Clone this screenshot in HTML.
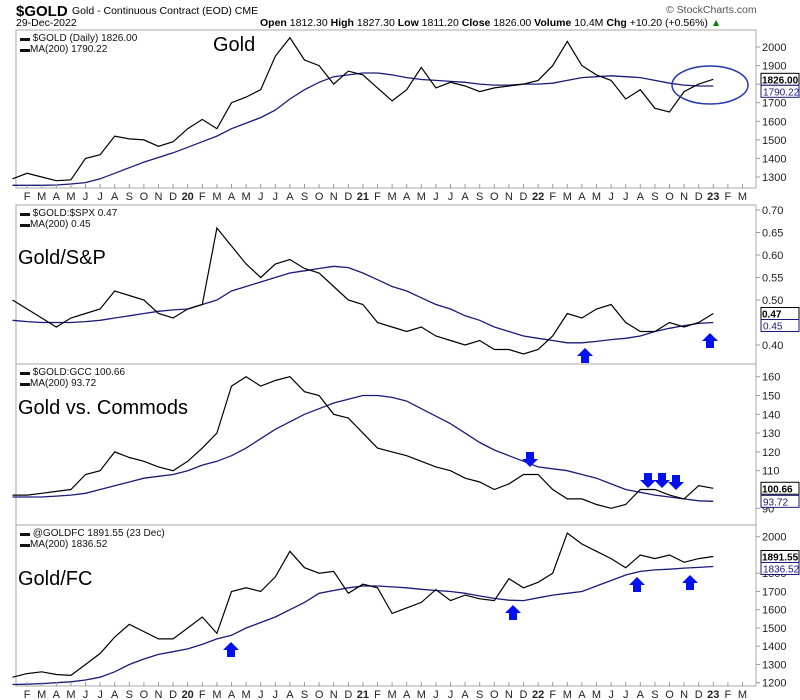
<!DOCTYPE html>
<html><head><meta charset="utf-8">
<style>
body{margin:0;background:#fff;}
svg{display:block;font-family:"Liberation Sans",Arial,sans-serif;}
.ax{font-size:11px;fill:#222;}
.lg{font-size:10px;fill:#111;}
</style></head>
<body>
<svg id="chart" width="800" height="700">
<text x="16" y="16" font-size="15" font-weight="bold">$GOLD</text>
<text x="72" y="14" font-size="10.5">Gold - Continuous Contract (EOD) CME</text>
<text x="16" y="26" font-size="10.5">29-Dec-2022</text>
<text x="260" y="26" font-size="10.5"><tspan font-weight="bold">Open</tspan> 1812.30 <tspan font-weight="bold">High</tspan> 1827.30 <tspan font-weight="bold">Low</tspan> 1811.20 <tspan font-weight="bold">Close</tspan> 1826.00 <tspan font-weight="bold">Volume</tspan> 10.4M <tspan font-weight="bold">Chg</tspan> +10.20 (+0.56%) <tspan fill="#080">▲</tspan></text>
<text x="666" y="13" font-size="10.5" fill="#555">© StockCharts.com</text>
<g id="panels"></g>
</svg>
<script>
// months from Jan 2019 (t=0) to Jan 2023 (t=48)
const goldPrice=[1290,1320,1300,1280,1285,1400,1420,1520,1505,1500,1465,1490,1560,1610,1560,1700,1730,1770,1950,2050,1930,1900,1800,1870,1850,1780,1710,1770,1890,1780,1810,1790,1760,1780,1790,1800,1820,1900,2030,1900,1850,1820,1720,1770,1670,1650,1760,1800,1826];
const goldMA=[1255,1255,1255,1257,1262,1270,1290,1320,1350,1380,1405,1430,1460,1490,1520,1560,1590,1620,1660,1720,1770,1810,1840,1850,1860,1860,1850,1835,1825,1820,1815,1810,1800,1795,1795,1800,1800,1805,1820,1835,1840,1845,1840,1835,1820,1805,1795,1790,1790];
const gspxPrice=[0.50,0.48,0.46,0.44,0.46,0.47,0.48,0.52,0.51,0.50,0.47,0.46,0.48,0.49,0.66,0.62,0.58,0.55,0.58,0.59,0.57,0.56,0.53,0.50,0.49,0.45,0.44,0.43,0.44,0.42,0.41,0.40,0.41,0.39,0.39,0.38,0.39,0.42,0.47,0.46,0.48,0.49,0.45,0.43,0.43,0.45,0.44,0.45,0.47];
const gspxMA=[0.455,0.452,0.45,0.45,0.45,0.452,0.455,0.46,0.465,0.47,0.475,0.478,0.48,0.49,0.50,0.52,0.53,0.54,0.55,0.56,0.565,0.57,0.575,0.572,0.56,0.545,0.53,0.52,0.505,0.49,0.48,0.465,0.455,0.44,0.43,0.42,0.415,0.41,0.405,0.405,0.408,0.412,0.415,0.42,0.43,0.437,0.443,0.448,0.45];
const gccPrice=[97,97,98,99,100,108,110,120,117,115,112,110,115,122,130,155,160,155,158,160,152,150,140,138,130,122,120,118,115,112,110,106,104,100,103,108,108,100,95,95,92,90,92,100,100,97,95,102,100.66];
const gccMA=[96,96,96,96.5,97,98,100,102,104,106,107,108,110,113,115,118,122,127,132,136,140,143,146,148,150,150,149,147,143,139,135,130,125,121,118,115,112,111,110,108,106,103,100,98.5,97,96,95,94,93.7];
const fcPrice=[1230,1250,1260,1245,1240,1300,1360,1450,1520,1480,1440,1440,1500,1560,1470,1700,1720,1700,1780,1920,1830,1800,1810,1690,1740,1720,1580,1610,1640,1710,1650,1680,1660,1650,1770,1720,1750,1800,2020,1960,1920,1880,1830,1900,1880,1900,1860,1880,1891.55];
const fcMA=[1190,1192,1195,1200,1205,1215,1230,1260,1300,1330,1355,1370,1385,1410,1440,1460,1500,1530,1560,1600,1640,1690,1705,1720,1730,1730,1725,1720,1712,1705,1700,1690,1675,1662,1652,1650,1665,1680,1690,1700,1730,1760,1790,1810,1818,1822,1828,1832,1836.52];
const monthLabels=['J','F','M','A','M','J','J','A','S','O','N','D'];
const panelsDef=[
 {top:30,bot:188,y0:47,ref:2000,ppu:0.1857,ticks:[2000,1900,1800,1700,1600,1500,1400,1300],fmt:v=>v,price:goldPrice,ma:goldMA,leg:['$GOLD (Daily) 1826.00','MA(200) 1790.22'],tag:['1826.00','1790.22'],title:'Gold',tx:213,ty:51,name:'gold'},
 {top:205,bot:364,y0:210,ref:0.70,ppu:450,ticks:[0.70,0.65,0.60,0.55,0.50,0.40],fmt:v=>v.toFixed(2),price:gspxPrice,ma:gspxMA,leg:['$GOLD:$SPX 0.47','MA(200) 0.45'],tag:['0.47','0.45'],title:'Gold/S&P',tx:18,ty:264,name:'gold-spx'},
 {top:364,bot:525,y0:376.7,ref:160,ppu:1.88,ticks:[160,150,140,130,120,110,90],fmt:v=>v,price:gccPrice,ma:gccMA,leg:['$GOLD:GCC 100.66','MA(200) 93.72'],tag:['100.66','93.72'],title:'Gold vs. Commods',tx:18,ty:414,name:'gold-gcc'},
 {top:525,bot:686,y0:536.7,ref:2000,ppu:0.1825,ticks:[2000,1800,1700,1600,1500,1400,1300,1200],fmt:v=>v,price:fcPrice,ma:fcMA,leg:['@GOLDFC 1891.55 (23 Dec)','MA(200) 1836.52'],tag:['1891.55','1836.52'],title:'Gold/FC',tx:18,ty:585,name:'gold-fc'}
];
const NS='http://www.w3.org/2000/svg';
const G=document.getElementById('panels');
function mk(tag,attrs,parent,text){const e=document.createElementNS(NS,tag);for(const k in attrs)e.setAttribute(k,attrs[k]);if(text!==undefined)e.textContent=text;(parent||G).appendChild(e);return e;}
const xS=t=>12.5+14.6*t;
function xAxis(y){
 for(let t=1;t<=50;t++){
  const x=xS(t);const m=t%12;
  let lab=monthLabels[m];let bold=false;
  if(m===0){lab=String(19+t/12);bold=true;}
  mk('line',{x1:x,x2:x,y1:y-4,y2:y,stroke:'#999'});
  const tx=mk('text',{x:x,y:y+12,'text-anchor':'middle',class:'ax','font-weight':bold?'bold':'normal'},G,lab);
  
  
 }
}
panelsDef.forEach((p,i)=>{
 const ref=p.ref;
 const yS=v=>p.y0+(ref-v)*p.ppu;
 const g=mk('g',{});
 
 
 mk('rect',{x:16,y:p.top,width:740,height:p.bot-p.top,fill:'none',stroke:'#aaa'},g);
 p.ticks.forEach(v=>{const y=yS(v);
  mk('line',{x1:756,x2:760,y1:y,y2:y,stroke:'#999'},g);
  const t=mk('text',{x:762,y:y+4,class:'ax'},g,p.fmt(v));
  
  
 });
 const pts=a=>a.map((v,k)=>xS(k).toFixed(1)+','+yS(v).toFixed(1)).join(' ');
 const ma=mk('polyline',{points:pts(p.ma),fill:'none',stroke:'#1a1a7a','stroke-width':1.3},g);
 
 
 const pr=mk('polyline',{points:pts(p.price),fill:'none',stroke:'#000','stroke-width':1.2},g);
 
 
 const l1=mk('text',{x:20,y:p.top+11,class:'lg'},g,'▬ '+p.leg[0]);
 
 
 const l2=mk('text',{x:20,y:p.top+22,class:'lg',fill:'#1a1a7a'},g,'▬'+p.leg[1]);
 
 
 const tt=mk('text',{x:p.tx,y:p.ty,'font-size':20,fill:'#000'},g,p.title);
 
 
 const lp=p.price[p.price.length-1],lm=p.ma[p.ma.length-1];
 let yp=yS(lp),ym=yS(lm);if(Math.abs(yp-ym)<12){ym=yp+12;}
 mk('rect',{x:761,y:yp-6,width:38,height:12,fill:'#fff',stroke:'#000'},g);
 const t1=mk('text',{x:762,y:yp+4,'font-size':10,'font-weight':'bold'},g,p.tag[0]);
 
 
 mk('rect',{x:761,y:ym-6,width:38,height:12,fill:'#fff',stroke:'#1a1a7a'},g);
 const t2=mk('text',{x:763,y:ym+4,'font-size':10,fill:'#1a1a7a'},g,p.tag[1]);
 
 
});
xAxis(188);xAxis(686);
const el=mk('ellipse',{cx:710,cy:85,rx:38,ry:19,fill:'none',stroke:'#2a3ab0','stroke-width':1.5});


function arrow(x,y,up){
 const d=up?`M${x},${y} l8,8 h-4 v7 h-8 v-7 h-4 z`:`M${x},${y} l8,-8 h-4 v-7 h-8 v7 h-4 z`;
 const a=mk('path',{d:d,fill:'#0010ee'});
 
 
}
arrow(585,348,true);arrow(710,333,true);
arrow(530,467,false);arrow(648,488,false);arrow(662,488,false);arrow(676,490,false);
arrow(231,642,true);
arrow(513,605,true);arrow(637,577,true);arrow(690,575,true);
</script>
</body></html>
